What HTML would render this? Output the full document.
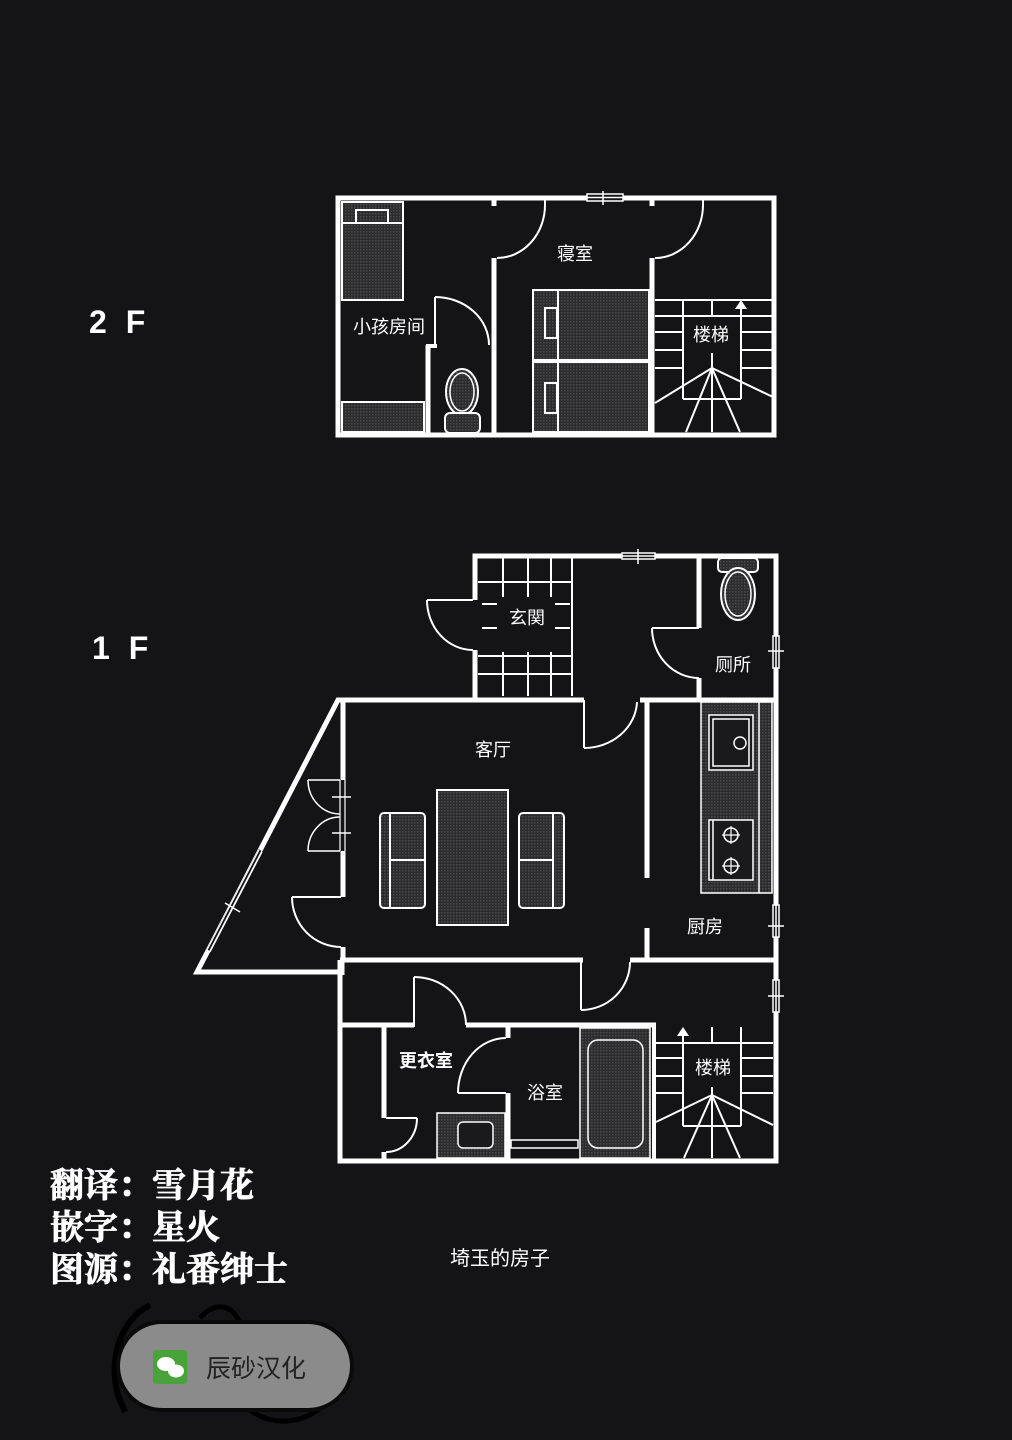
<!DOCTYPE html>
<html><head><meta charset="utf-8"><style>
html,body{margin:0;padding:0;background:#141316;}
svg{display:block;}
</style></head><body>
<svg width="1012" height="1440" viewBox="0 0 1012 1440" xmlns="http://www.w3.org/2000/svg">
<defs>
<pattern id="h" width="3" height="3" patternUnits="userSpaceOnUse"><rect width="3" height="3" fill="#2c2c2e"/><rect width="1.5" height="1.5" fill="#4a4a4c"/></pattern>
</defs>
<rect width="1012" height="1440" fill="#141316"/>
<g font-family="Liberation Sans, DejaVu Sans, sans-serif" font-weight="bold" fill="#fff" font-size="32" letter-spacing="5">
<text x="89" y="333">2 F</text>
<text x="92" y="659">1 F</text>
</g>

<!-- ===== 2F ===== -->
<g fill="none" stroke="#fff">
<rect x="338" y="198" width="436" height="237" stroke-width="5"/>
<rect x="587" y="194" width="36" height="7" fill="#141316" stroke-width="1.5"/>
<line x1="587" y1="197.5" x2="623" y2="197.5" stroke-width="1.5"/>
<line x1="603" y1="191" x2="603" y2="205" stroke-width="1.5"/>
<rect x="342" y="202" width="61" height="98" fill="url(#h)" stroke-width="2"/>
<line x1="342" y1="223" x2="403" y2="223" stroke-width="2"/>
<rect x="356" y="210" width="32" height="13" stroke-width="2"/>
<rect x="342" y="402" width="82" height="30" fill="url(#h)" stroke-width="2"/>
<line x1="428" y1="345" x2="428" y2="433" stroke-width="5"/>
<line x1="426" y1="346" x2="437" y2="346" stroke-width="4"/>
<line x1="494" y1="345" x2="494" y2="433" stroke-width="5"/>
<line x1="494" y1="258" x2="494" y2="348" stroke-width="5"/>
<line x1="494" y1="198" x2="494" y2="206" stroke-width="5"/>
<line x1="652" y1="258" x2="652" y2="433" stroke-width="5"/>
<line x1="652" y1="198" x2="652" y2="206" stroke-width="5"/>
<line x1="435" y1="297" x2="435" y2="345" stroke-width="2"/>
<path d="M435,297 A54,48 0 0 1 489,345" stroke-width="2"/>
<!-- bedroom doors -->
<line x1="545" y1="200" x2="545" y2="206" stroke-width="2"/>
<path d="M497,258 A48,53 0 0 0 545,205" stroke-width="2"/>
<line x1="703" y1="200" x2="703" y2="206" stroke-width="2"/>
<path d="M655,258 A48,53 0 0 0 703,205" stroke-width="2"/>
<ellipse cx="462" cy="392" rx="16" ry="23" stroke-width="2" fill="url(#h)"/>
<ellipse cx="462" cy="392" rx="12" ry="19" stroke-width="1.5"/>
<rect x="445" y="413" width="35" height="20" rx="5" stroke-width="2" fill="url(#h)"/>
<rect x="533" y="290" width="116" height="70" fill="url(#h)" stroke-width="2"/>
<rect x="533" y="362" width="116" height="70" fill="url(#h)" stroke-width="2"/>
<line x1="558" y1="290" x2="558" y2="432" stroke-width="2"/>
<rect x="545" y="308" width="12" height="30" stroke-width="2"/>
<rect x="545" y="383" width="12" height="30" stroke-width="2"/>
<g stroke-width="2">
<line x1="655" y1="300" x2="773" y2="300"/>
<line x1="655" y1="316" x2="773" y2="316"/>
<line x1="655" y1="332" x2="683" y2="332"/><line x1="741" y1="332" x2="773" y2="332"/>
<line x1="655" y1="350" x2="683" y2="350"/><line x1="741" y1="350" x2="773" y2="350"/>
<line x1="655" y1="368" x2="683" y2="368"/><line x1="741" y1="368" x2="773" y2="368"/>
<line x1="683" y1="300" x2="683" y2="399"/>
<line x1="712" y1="300" x2="712" y2="316"/>
<line x1="741" y1="306" x2="741" y2="399"/>
<line x1="683" y1="399" x2="741" y2="399"/>
<line x1="712" y1="353" x2="712" y2="432"/>
<line x1="712" y1="368" x2="655" y2="403"/>
<line x1="712" y1="368" x2="686" y2="432"/>
<line x1="712" y1="368" x2="740" y2="432"/>
<line x1="712" y1="368" x2="773" y2="397"/>
</g>
<path d="M735,309 L741,300 L747,309 Z" fill="#fff" stroke="none"/>
</g>
<rect x="688" y="320" width="48" height="30" fill="#141316"/>
<g font-family="Liberation Sans, Noto Sans CJK SC, sans-serif" fill="#fff" font-size="18">
<text x="575" y="260" text-anchor="middle">寝室</text>
<text x="389" y="333" text-anchor="middle">小孩房间</text>
<text x="711" y="341" text-anchor="middle">楼梯</text>
</g>

<!-- ===== 1F ===== -->
<g fill="none" stroke="#fff">
<polyline points="475,556 776,556 776,1161 340,1161 340,960" stroke-width="5"/>
<line x1="475" y1="600" x2="475" y2="553.5" stroke-width="5"/>
<line x1="475" y1="650" x2="475" y2="700" stroke-width="5"/>
<rect x="622" y="553" width="33" height="6" fill="#141316" stroke-width="1.5"/>
<line x1="622" y1="556" x2="655" y2="556" stroke-width="1.5"/>
<line x1="638" y1="549" x2="638" y2="564" stroke-width="1.5"/>
<line x1="427" y1="600" x2="473" y2="600" stroke-width="2"/>
<path d="M427,600 A46,50 0 0 0 473,650" stroke-width="2"/>
<g stroke-width="2">
<line x1="572" y1="558" x2="572" y2="696"/>
<line x1="503" y1="558" x2="503" y2="597"/><line x1="528" y1="558" x2="528" y2="597"/><line x1="551" y1="558" x2="551" y2="597"/>
<line x1="503" y1="652" x2="503" y2="696"/><line x1="528" y1="652" x2="528" y2="696"/><line x1="551" y1="652" x2="551" y2="696"/>
<line x1="478" y1="582" x2="572" y2="582"/>
<line x1="478" y1="656" x2="572" y2="656"/>
<line x1="478" y1="674" x2="572" y2="674"/>
<line x1="482" y1="604" x2="497" y2="604"/><line x1="555" y1="604" x2="570" y2="604"/>
<line x1="482" y1="628" x2="497" y2="628"/><line x1="555" y1="628" x2="570" y2="628"/>
</g>
<line x1="699" y1="556" x2="699" y2="628" stroke-width="5"/>
<line x1="699" y1="678" x2="699" y2="700" stroke-width="5"/>
<line x1="652" y1="628" x2="699" y2="628" stroke-width="2"/>
<path d="M652,628 A47,50 0 0 0 699,678" stroke-width="2"/>
<rect x="718" y="558" width="40" height="14" rx="4" fill="url(#h)" stroke-width="2"/>
<ellipse cx="738" cy="594" rx="17" ry="26" stroke-width="2" fill="url(#h)"/>
<ellipse cx="738" cy="594" rx="13" ry="22" stroke-width="1.5"/>
<g stroke-width="1.5">
<rect x="773" y="636" width="6" height="32" fill="#141316"/><line x1="776" y1="636" x2="776" y2="668"/><line x1="768" y1="651" x2="784" y2="651"/>
<rect x="773" y="905" width="6" height="32" fill="#141316"/><line x1="776" y1="905" x2="776" y2="937"/><line x1="768" y1="926" x2="784" y2="926"/>
<rect x="773" y="980" width="6" height="32" fill="#141316"/><line x1="776" y1="980" x2="776" y2="1012"/><line x1="768" y1="996" x2="784" y2="996"/>
</g>
<line x1="340" y1="700" x2="584" y2="700" stroke-width="5"/>
<line x1="640" y1="700" x2="776" y2="700" stroke-width="5"/>
<line x1="584" y1="700" x2="584" y2="748" stroke-width="2"/>
<path d="M584,748 A53,48 0 0 0 637,702" stroke-width="2"/>
<polyline points="342,700 338,700 197,972 342,972" stroke-width="5" stroke-linejoin="miter"/>
<line x1="342" y1="960" x2="342" y2="975" stroke-width="5"/>
<line x1="260" y1="850" x2="208" y2="950" stroke="#141316" stroke-width="3"/>
<line x1="259" y1="850" x2="207" y2="950" stroke-width="1.2"/>
<line x1="262" y1="852" x2="210" y2="952" stroke-width="1.2"/>
<line x1="225" y1="903" x2="240" y2="912" stroke-width="1.5"/>
<line x1="343" y1="700" x2="343" y2="780" stroke-width="5"/>
<line x1="343" y1="851" x2="343" y2="897" stroke-width="5"/>
<line x1="343" y1="947" x2="343" y2="962" stroke-width="5"/>
<line x1="340" y1="780" x2="340" y2="851" stroke-width="1.2"/>
<line x1="345" y1="780" x2="345" y2="851" stroke-width="1.2"/>
<line x1="332" y1="797" x2="351" y2="797" stroke-width="1.5"/>
<line x1="332" y1="833" x2="351" y2="833" stroke-width="1.5"/>
<line x1="308" y1="780" x2="340" y2="780" stroke-width="1.5"/>
<path d="M308,780 A32,34 0 0 0 340,814" stroke-width="1.5"/>
<line x1="308" y1="851" x2="340" y2="851" stroke-width="1.5"/>
<path d="M308,851 A32,34 0 0 1 340,817" stroke-width="1.5"/>
<line x1="292" y1="897" x2="341" y2="897" stroke-width="2"/>
<path d="M292,897 A49,50 0 0 0 341,947" stroke-width="2"/>
<line x1="340" y1="960" x2="583" y2="960" stroke-width="5"/>
<line x1="630" y1="960" x2="776" y2="960" stroke-width="5"/>
<line x1="581" y1="962" x2="581" y2="1010" stroke-width="2"/>
<path d="M581,1010 A49,48 0 0 0 630,962" stroke-width="2"/>
<line x1="647" y1="700" x2="647" y2="878" stroke-width="5"/>
<line x1="647" y1="928" x2="647" y2="962" stroke-width="5"/>
<rect x="701" y="702" width="71" height="191" fill="url(#h)" stroke-width="1.5"/>
<line x1="759" y1="702" x2="759" y2="893" stroke-width="1.5"/>
<rect x="709" y="715" width="44" height="55" stroke-width="1.5" fill="#1a1a1c"/>
<rect x="713" y="719" width="36" height="47" stroke-width="1.5"/>
<circle cx="740" cy="743" r="6" stroke-width="1.5"/>
<rect x="709" y="820" width="44" height="60" stroke-width="1.5" fill="#1a1a1c"/>
<line x1="713" y1="820" x2="713" y2="880" stroke-width="1.5"/>
<circle cx="731" cy="835" r="7" stroke-width="1.5"/>
<circle cx="731" cy="866" r="7" stroke-width="1.5"/>
<g stroke-width="1.2"><line x1="722" y1="835" x2="740" y2="835"/><line x1="731" y1="826" x2="731" y2="844"/><line x1="722" y1="866" x2="740" y2="866"/><line x1="731" y1="857" x2="731" y2="875"/></g>
<rect x="437" y="790" width="71" height="135" fill="url(#h)" stroke-width="2"/>
<rect x="380" y="813" width="45" height="95" rx="4" fill="url(#h)" stroke-width="2"/>
<line x1="390" y1="813" x2="390" y2="908" stroke-width="2"/>
<line x1="390" y1="860" x2="425" y2="860" stroke-width="2"/>
<rect x="519" y="813" width="45" height="95" rx="4" fill="url(#h)" stroke-width="2"/>
<line x1="553" y1="813" x2="553" y2="908" stroke-width="2"/>
<line x1="519" y1="860" x2="553" y2="860" stroke-width="2"/>
<line x1="340" y1="1025" x2="414" y2="1025" stroke-width="5"/>
<line x1="466" y1="1025" x2="656" y2="1025" stroke-width="5"/>
<line x1="414" y1="977" x2="414" y2="1027" stroke-width="2"/>
<path d="M414,977 A52,48 0 0 1 466,1025" stroke-width="2"/>
<line x1="384" y1="1025" x2="384" y2="1118" stroke-width="5"/>
<line x1="384" y1="1152" x2="384" y2="1160" stroke-width="5"/>
<line x1="386" y1="1118" x2="417" y2="1118" stroke-width="2"/>
<path d="M417,1118 A31,34 0 0 1 386,1152" stroke-width="2"/>
<line x1="508" y1="1025" x2="508" y2="1038" stroke-width="5"/>
<line x1="508" y1="1093" x2="508" y2="1160" stroke-width="5"/>
<line x1="458" y1="1093" x2="506" y2="1093" stroke-width="2"/>
<path d="M458,1093 A48,55 0 0 1 506,1038" stroke-width="2"/>
<rect x="437" y="1113" width="68" height="45" fill="url(#h)" stroke-width="1.5"/>
<rect x="458" y="1122" width="35" height="26" rx="5" stroke-width="1.5" fill="#1a1a1c"/>
<rect x="511" y="1140" width="67" height="8" stroke-width="1.5"/>
<rect x="580" y="1028" width="70" height="130" fill="url(#h)" stroke-width="1.5"/>
<rect x="588" y="1040" width="55" height="108" rx="10" stroke-width="1.5"/>
<line x1="654" y1="1025" x2="654" y2="1160" stroke-width="4"/>
<g stroke-width="2">
<line x1="656" y1="1043" x2="773" y2="1043"/>
<line x1="656" y1="1058" x2="683" y2="1058"/><line x1="741" y1="1058" x2="773" y2="1058"/>
<line x1="656" y1="1076" x2="683" y2="1076"/><line x1="741" y1="1076" x2="773" y2="1076"/>
<line x1="656" y1="1093" x2="683" y2="1093"/><line x1="741" y1="1093" x2="773" y2="1093"/>
<line x1="683" y1="1036" x2="683" y2="1126"/>
<line x1="741" y1="1027" x2="741" y2="1126"/>
<line x1="683" y1="1126" x2="741" y2="1126"/>
<line x1="712" y1="1027" x2="712" y2="1043"/>
<line x1="712" y1="1087" x2="712" y2="1158"/>
<line x1="712" y1="1095" x2="656" y2="1122"/>
<line x1="712" y1="1095" x2="684" y2="1158"/>
<line x1="712" y1="1095" x2="740" y2="1158"/>
<line x1="712" y1="1095" x2="773" y2="1125"/>
</g>
<path d="M677,1036 L683,1027 L689,1036 Z" fill="#fff" stroke="none"/>
</g>
<rect x="688" y="1053" width="48" height="30" fill="#141316"/>
<g font-family="Liberation Sans, Noto Sans CJK SC, sans-serif" fill="#fff" font-size="18">
<text x="527" y="624" text-anchor="middle">玄関</text>
<text x="733" y="671" text-anchor="middle">厕所</text>
<text x="493" y="756" text-anchor="middle">客厅</text>
<text x="705" y="933" text-anchor="middle">厨房</text>
<text x="426" y="1067" text-anchor="middle" font-weight="bold">更衣室</text>
<text x="545" y="1099" text-anchor="middle">浴室</text>
<text x="713" y="1074" text-anchor="middle">楼梯</text>
<text x="500" y="1265" text-anchor="middle" font-size="20">埼玉的房子</text>
</g>
<g font-family="Liberation Serif, Noto Serif CJK SC, serif" font-weight="bold" fill="#fff" font-size="34" stroke="#fff" stroke-width="0.8">
<text x="50" y="1197">翻译：雪月花</text>
<text x="50" y="1239">嵌字：星火</text>
<text x="50" y="1281">图源：礼番绅士</text>
</g>
<path d="M150,1305 C120,1320 108,1360 118,1395 L125,1412" fill="none" stroke="#000" stroke-width="6"/>
<path d="M200,1318 C215,1300 235,1305 240,1325" fill="none" stroke="#000" stroke-width="5"/>
<path d="M250,1410 C270,1425 300,1425 320,1408" fill="none" stroke="#000" stroke-width="5"/>
<rect x="118" y="1322" width="234" height="88" rx="44" fill="#8b8b8b" stroke="#0a0a0a" stroke-width="4"/>
<rect x="153" y="1350" width="34" height="34" rx="3" fill="#4aa33a"/>
<ellipse cx="166" cy="1364" rx="9" ry="7" fill="#fff"/>
<ellipse cx="176" cy="1371" rx="8" ry="6.5" fill="#fff"/>
<text x="206" y="1377" font-family="Liberation Sans, Noto Sans CJK SC, sans-serif" font-size="25" fill="#222">辰砂汉化</text>
</svg>
</body></html>
